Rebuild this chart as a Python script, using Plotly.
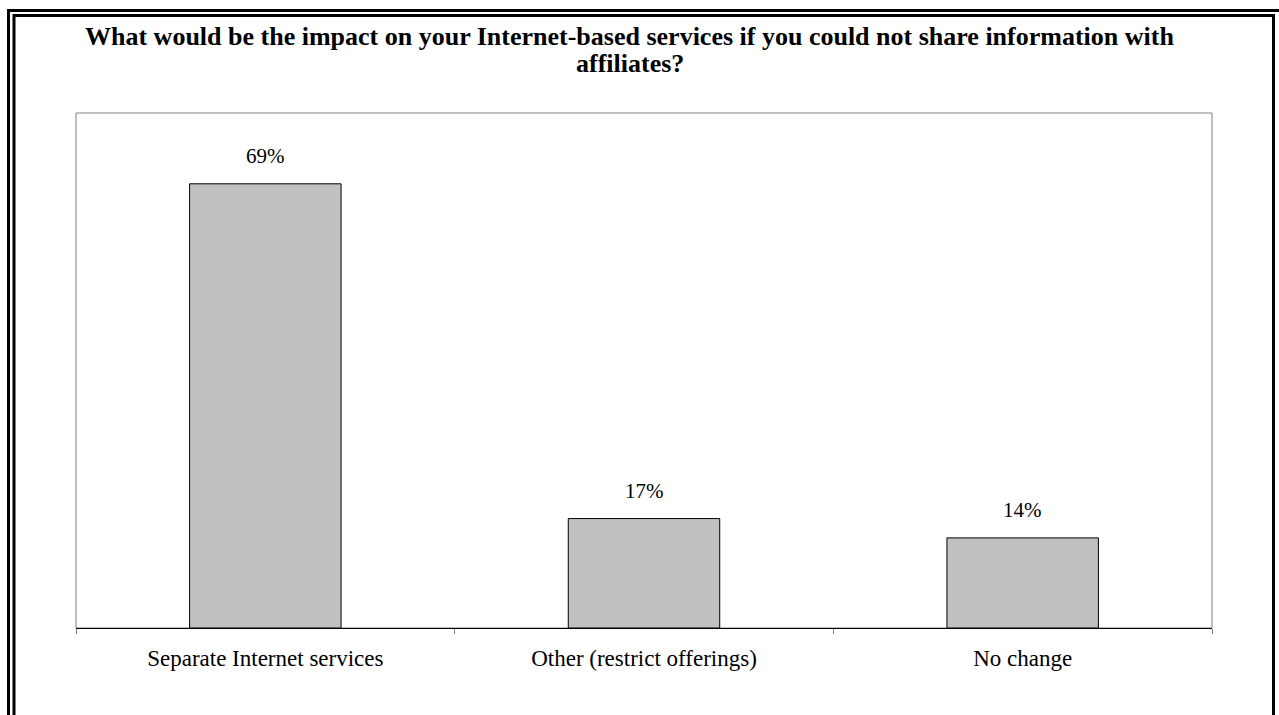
import plotly.graph_objects as go

# Survey responses
categories = ["Separate Internet services", "Other (restrict offerings)", "No change"]
shares = [69, 17, 14]
value_labels = [f"{v}%" for v in shares]

title_lines = [
    "What would be the impact on your Internet-based services if you could not share information with",
    "affiliates?",
]

W, H = 1279, 715
ML, MR, MT, MB = 76, 67, 113, 87
PW, PH = W - ML - MR, H - MT - MB

SERIF = "Liberation Serif, Times New Roman, serif"


def px_x(p):
    return (p - ML) / PW


def px_y(p):
    return 1 - (p - MT) / PH


fig = go.Figure()
fig.add_trace(go.Bar(
    x=categories,
    y=shares,
    width=0.4,
    marker=dict(color="#c0c0c0", line=dict(color="black", width=1)),
    hoverinfo="skip",
))

for c, v, t in zip(categories, shares, value_labels):
    fig.add_annotation(x=c, y=v, text=t, showarrow=False, yanchor="middle",
                       yshift=28, font=dict(family=SERIF, size=21, color="black"))

# two-line heading
for line, ypx in zip(title_lines, [37, 63]):
    fig.add_annotation(xref="paper", yref="paper", x=px_x(W / 2 - 10), y=px_y(ypx),
                       text=f"<b>{line}</b>", showarrow=False,
                       xanchor="center", yanchor="middle",
                       font=dict(family=SERIF, size=26, color="black"))

shapes = []
# plot-area frame (grey top, left, right)
shapes.append(dict(type="rect", xref="paper", yref="paper", x0=0, x1=1, y0=0, y1=1,
                   line=dict(color="#808080", width=1), layer="below"))
# outer and inner page borders
shapes.append(dict(type="rect", xref="paper", yref="paper",
                   x0=px_x(8.5), x1=px_x(1282), y0=px_y(10.5), y1=px_y(740),
                   line=dict(color="black", width=3)))
shapes.append(dict(type="rect", xref="paper", yref="paper",
                   x0=px_x(14), x1=px_x(1273.5), y0=px_y(15.5), y1=px_y(740),
                   line=dict(color="black", width=3)))

fig.update_layout(
    width=W, height=H,
    margin=dict(l=ML, r=MR, t=MT, b=MB),
    paper_bgcolor="white", plot_bgcolor="white",
    showlegend=False,
    shapes=shapes,
    xaxis=dict(type="category", tickson="boundaries", ticks="outside", ticklen=5,
               tickcolor="#808080", tickwidth=1, showline=True, linecolor="black",
               linewidth=1, showgrid=False, zeroline=False, ticklabelstandoff=9,
               tickfont=dict(family=SERIF, size=23, color="black"), fixedrange=True),
    yaxis=dict(range=[0, 80], visible=False, showgrid=False, zeroline=False, fixedrange=True),
)

fig.write_html("out.html")
